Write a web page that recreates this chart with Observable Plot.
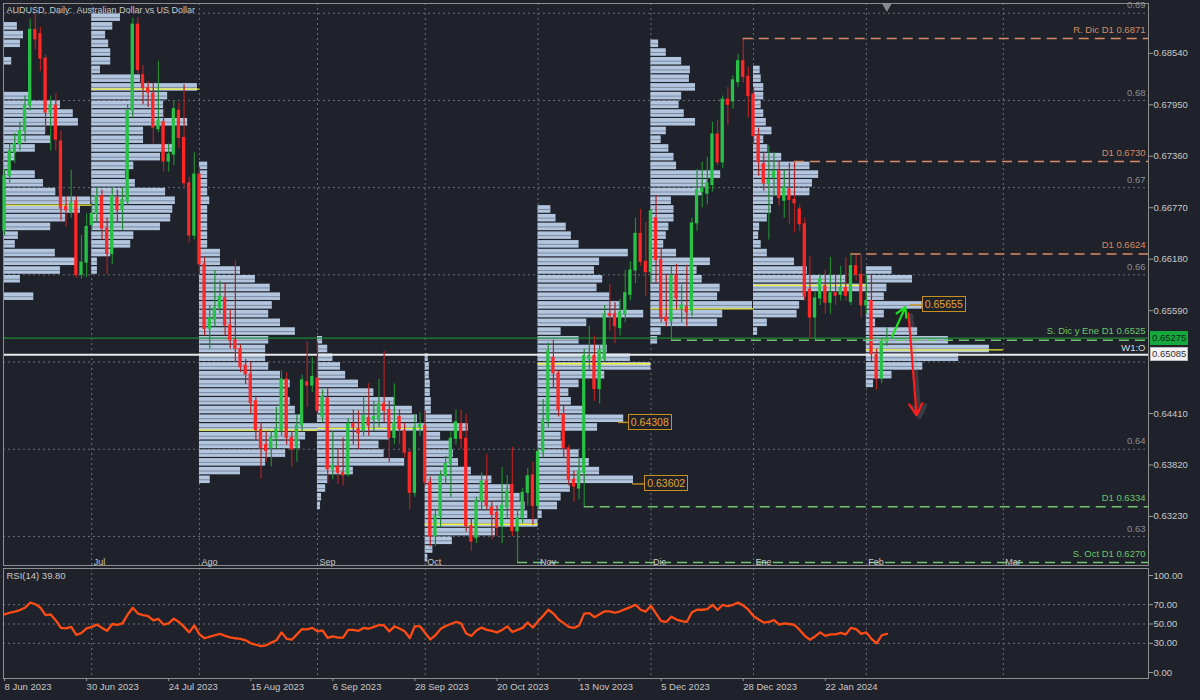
<!DOCTYPE html>
<html><head><meta charset="utf-8">
<script src="https://cdn.jsdelivr.net/npm/d3@7"></script>
<script src="https://cdn.jsdelivr.net/npm/@observablehq/plot@0.6"></script>
<style>
html,body{margin:0;padding:0;background:#1f222a;}
#wrap{position:relative;width:1200px;height:700px;overflow:hidden;background:#1f222a;font-family:"Liberation Sans Narrow","Arial Narrow","Liberation Sans",Arial,sans-serif;}
#main,#rsi{position:absolute;left:0;}
#main{top:0;} #rsi{top:568px;}
.box{position:absolute;font-size:9.5px;line-height:12px;height:12px;padding:0 2px;white-space:nowrap;}
</style></head><body><div id="wrap"><div id="main"></div><div id="rsi"></div></div>
<script>
// ---------- DATA ----------
const title = "AUDUSD, Daily:  Australian Dollar vs US Dollar";
const tickIdx = [0,16,32,48,64,80,96,112,128,144,160];
const tickLabels = ["8 Jun 2023","30 Jun 2023","24 Jul 2023","15 Aug 2023","6 Sep 2023","28 Sep 2023","20 Oct 2023","13 Nov 2023","5 Dec 2023","28 Dec 2023","22 Jan 2024"];
const monthIdx = [17,38,61,82,104,126,146,168,194.7];
const monthLabels = ["Jul","Ago","Sep","Oct","Nov","Dic","Ene","Feb","Mar"];

const opens = [0.6651,0.6713,0.6740,0.6750,0.6765,0.6794,0.6881,0.6876,0.6848,0.6786,0.6794,0.6753,0.6678,0.6672,0.6684,0.6600,0.6614,0.6657,0.6670,0.6690,0.6653,0.6624,0.6688,0.6674,0.6684,0.6788,0.6887,0.6829,0.6814,0.6808,0.6767,0.6775,0.6730,0.6738,0.6788,0.6757,0.6705,0.6645,0.6715,0.6612,0.6538,0.6548,0.6562,0.6573,0.6542,0.6525,0.6515,0.6496,0.6486,0.6455,0.6422,0.6405,0.6401,0.6413,0.6421,0.6480,0.6413,0.6402,0.6427,0.6477,0.6473,0.6481,0.6437,0.6458,0.6377,0.6380,0.6373,0.6371,0.6429,0.6423,0.6421,0.6436,0.6434,0.6434,0.6452,0.6445,0.6413,0.6437,0.6421,0.6396,0.6350,0.6425,0.6427,0.6362,0.6300,0.6323,0.6369,0.6383,0.6412,0.6429,0.6412,0.6312,0.6298,0.6340,0.6363,0.6333,0.6327,0.6312,0.6333,0.6359,0.6306,0.6321,0.6350,0.6370,0.6335,0.6397,0.6433,0.6505,0.6487,0.6440,0.6401,0.6365,0.6355,0.6373,0.6503,0.6507,0.6469,0.6503,0.6555,0.6555,0.6539,0.6555,0.6577,0.6605,0.6647,0.6615,0.6603,0.6665,0.6617,0.6551,0.6547,0.6599,0.6561,0.6563,0.6559,0.6659,0.6695,0.6693,0.6703,0.6761,0.6729,0.6801,0.6799,0.6821,0.6845,0.6827,0.6807,0.6759,0.6727,0.6704,0.6711,0.6719,0.6685,0.6698,0.6686,0.6675,0.6658,0.6583,0.6551,0.6573,0.6587,0.6568,0.6579,0.6577,0.6585,0.6569,0.6610,0.6600,0.6565,0.6570,0.6508,0.6481,0.6523];
const highs = [0.6721,0.6750,0.6762,0.6775,0.6805,0.6893,0.6899,0.6884,0.6852,0.6805,0.6808,0.6765,0.6690,0.6720,0.6690,0.6645,0.6670,0.6683,0.6700,0.6697,0.6665,0.6700,0.6697,0.6700,0.6795,0.6894,0.6895,0.6840,0.6822,0.6820,0.6845,0.6790,0.6750,0.6800,0.6797,0.6818,0.6712,0.6740,0.6723,0.6620,0.6565,0.6605,0.6593,0.6590,0.6560,0.6616,0.6520,0.6503,0.6500,0.6460,0.6430,0.6420,0.6420,0.6448,0.6490,0.6488,0.6420,0.6440,0.6485,0.6523,0.6505,0.6523,0.6468,0.6470,0.6420,0.6400,0.6413,0.6435,0.6445,0.6444,0.6460,0.6475,0.6455,0.6480,0.6512,0.6455,0.6475,0.6445,0.6430,0.6400,0.6440,0.6442,0.6444,0.6368,0.6330,0.6375,0.6392,0.6420,0.6445,0.6445,0.6440,0.6320,0.6345,0.6373,0.6394,0.6340,0.6335,0.6379,0.6370,0.6402,0.6330,0.6355,0.6378,0.6385,0.6402,0.6457,0.6522,0.6525,0.6490,0.6450,0.6405,0.6375,0.6390,0.6515,0.6541,0.6530,0.6520,0.6565,0.6589,0.6568,0.6572,0.6605,0.6615,0.6665,0.6675,0.6660,0.6675,0.6691,0.6630,0.6600,0.6610,0.6612,0.6588,0.6611,0.6665,0.6721,0.6729,0.6735,0.6775,0.6777,0.6805,0.6815,0.6828,0.6853,0.6871,0.6838,0.6815,0.6768,0.6740,0.6748,0.6740,0.6730,0.6720,0.6728,0.6730,0.6680,0.6665,0.6621,0.6580,0.6600,0.6605,0.6620,0.6600,0.6610,0.6620,0.6624,0.6624,0.6623,0.6600,0.6600,0.6515,0.6527,0.6539];
const lows = [0.6645,0.6705,0.6728,0.6742,0.6752,0.6788,0.6858,0.6833,0.6763,0.6742,0.6742,0.6662,0.6655,0.6665,0.6596,0.6595,0.6597,0.6650,0.6660,0.6640,0.6600,0.6612,0.6660,0.6651,0.6680,0.6780,0.6830,0.6795,0.6792,0.6750,0.6763,0.6718,0.6718,0.6725,0.6745,0.6700,0.6636,0.6640,0.6600,0.6530,0.6515,0.6540,0.6555,0.6530,0.6515,0.6500,0.6488,0.6474,0.6440,0.6410,0.6366,0.6385,0.6380,0.6400,0.6415,0.6405,0.6379,0.6385,0.6420,0.6448,0.6465,0.6440,0.6430,0.6360,0.6365,0.6360,0.6358,0.6368,0.6405,0.6400,0.6415,0.6415,0.6420,0.6425,0.6430,0.6385,0.6405,0.6405,0.6390,0.6331,0.6345,0.6415,0.6358,0.6288,0.6288,0.6310,0.6360,0.6345,0.6405,0.6400,0.6305,0.6283,0.6292,0.6330,0.6330,0.6296,0.6300,0.6292,0.6320,0.6300,0.6270,0.6315,0.6335,0.6313,0.6330,0.6390,0.6425,0.6470,0.6437,0.6390,0.6358,0.6339,0.6342,0.6334,0.6490,0.6455,0.6452,0.6500,0.6535,0.6521,0.6530,0.6545,0.6570,0.6590,0.6610,0.6575,0.6590,0.6590,0.6545,0.6540,0.6525,0.6560,0.6545,0.6540,0.6552,0.6650,0.6677,0.6680,0.6695,0.6725,0.6722,0.6772,0.6790,0.6815,0.6820,0.6780,0.6750,0.6713,0.6696,0.6640,0.6690,0.6679,0.6665,0.6658,0.6648,0.6650,0.6570,0.6526,0.6525,0.6565,0.6555,0.6555,0.6565,0.6570,0.6570,0.6565,0.6593,0.6551,0.6555,0.6500,0.6468,0.6475,0.6518];
const closes = [0.6713,0.6742,0.6750,0.6765,0.6794,0.6881,0.6870,0.6848,0.6786,0.6794,0.6755,0.6676,0.6674,0.6682,0.6600,0.6614,0.6655,0.6670,0.6690,0.6653,0.6624,0.6690,0.6674,0.6686,0.6788,0.6887,0.6835,0.6814,0.6809,0.6769,0.6777,0.6730,0.6738,0.6790,0.6757,0.6705,0.6645,0.6715,0.6612,0.6538,0.6550,0.6562,0.6575,0.6542,0.6525,0.6515,0.6494,0.6486,0.6453,0.6422,0.6401,0.6398,0.6413,0.6423,0.6480,0.6413,0.6400,0.6427,0.6479,0.6473,0.6483,0.6444,0.6460,0.6377,0.6381,0.6373,0.6370,0.6429,0.6425,0.6418,0.6438,0.6427,0.6437,0.6452,0.6444,0.6413,0.6430,0.6423,0.6396,0.6350,0.6425,0.6428,0.6362,0.6300,0.6323,0.6369,0.6383,0.6412,0.6431,0.6412,0.6312,0.6294,0.6340,0.6363,0.6335,0.6325,0.6310,0.6335,0.6352,0.6306,0.6321,0.6350,0.6369,0.6335,0.6397,0.6433,0.6513,0.6487,0.6445,0.6401,0.6365,0.6357,0.6375,0.6507,0.6507,0.6469,0.6513,0.6555,0.6553,0.6541,0.6557,0.6579,0.6605,0.6647,0.6615,0.6603,0.6673,0.6617,0.6551,0.6547,0.6599,0.6573,0.6565,0.6557,0.6659,0.6697,0.6699,0.6705,0.6761,0.6729,0.6801,0.6795,0.6823,0.6845,0.6827,0.6805,0.6759,0.6729,0.6705,0.6709,0.6719,0.6688,0.6700,0.6686,0.6682,0.6658,0.6575,0.6551,0.6573,0.6595,0.6568,0.6579,0.6576,0.6585,0.6576,0.6610,0.6600,0.6565,0.6570,0.6509,0.6481,0.6524,0.65275];

const rsiValues = [60,61.6,62.8,64.4,66.8,72,70.5,66.8,59.2,59.8,53.7,46,45.4,47,38.7,40.8,45.4,47,49.4,46,43,50,49,50.6,59.8,66.8,60.7,59.2,58.2,53.7,55.2,49.4,50.6,55.5,52.1,47,41.4,48.5,39.3,35.3,36.9,38.4,39.9,37.8,36.2,35.3,34.7,33.2,30.1,28.6,27.1,28,30.8,33.2,41.4,34.7,33.8,39.3,44.8,44.5,46,42.4,43.3,35.6,37.2,36,36,43.9,43.9,43,46,45.1,47,49,48.5,42.4,47.6,45.4,42.4,35.6,47.9,47.6,40.8,34.1,38.4,44.8,47.9,50,52.1,50.6,40.2,37.8,43.3,46.3,43.9,43,41.4,43.9,47.6,41.7,43.9,46,51.5,46.3,53,58.5,64.7,60.7,54.6,50.9,47,46,48.5,60.7,61.3,57,60,63.1,63.1,61.6,63.1,65.3,67.4,69.8,64.7,62.8,68.9,60.7,53,52.1,57.6,54.6,53,52.1,62.2,64.7,64.7,65.3,69.8,64.4,69.8,68.3,69.8,72,69.2,64.7,58.2,54.6,51.5,52.1,54,49.4,50.6,50,49,43.9,37.8,33.8,37.2,41.4,37.8,39.3,39.3,40.8,39.3,46,44.8,39.9,41.4,34.7,30.1,38.4,39.8];
const rsiTitle = "RSI(14) 39.80";
const rsiTicks = [100,70,50,30,0];
const rsiLevels = [70,50,30];

// monthly volume profiles: [bin low price, length in bars]
const profileBin = 0.001;
const profileStarts = [-5,17,38,61,82,104,126,146,168];
const profJun = [[0.688,7.5],[0.687,8.7],[0.686,8.1],[0.685,4.5],[0.684,6.4],[0.680,10],[0.679,15.9],[0.678,18.4],[0.677,19.4],[0.676,13],[0.675,14],[0.674,11],[0.673,7.1],[0.672,6.1],[0.671,11],[0.670,12.6],[0.669,15],[0.668,21.8],[0.667,19.8],[0.666,16.9],[0.665,14],[0.664,7.7],[0.663,7.1],[0.662,14.9],[0.661,19.2],[0.660,15.9],[0.659,8.1],[0.657,10.7]];
const profJul = [[0.689,5.6],[0.688,4.1],[0.687,2.7],[0.686,3.3],[0.685,3.7],[0.684,3.7],[0.683,1.7],[0.682,9.5],[0.681,20.6],[0.680,14.8],[0.679,14],[0.678,14],[0.677,18.7],[0.676,10.1],[0.675,10.1],[0.674,16.3],[0.673,13.4],[0.672,8.2],[0.671,6.6],[0.670,8.5],[0.669,14.4],[0.668,16.3],[0.667,15.8],[0.666,15.4],[0.665,13.4],[0.664,8.2],[0.663,7.6],[0.662,3.7],[0.661,1.1],[0.660,1.1]];
const profAgo = [[0.672,1.6],[0.671,1.6],[0.670,1.6],[0.669,1.6],[0.668,2.0],[0.667,1.6],[0.666,1.6],[0.665,1.6],[0.664,1.6],[0.663,1.6],[0.662,4.1],[0.661,4.1],[0.660,8],[0.659,10.9],[0.658,13.8],[0.657,15.8],[0.656,14.2],[0.655,13.5],[0.654,15.8],[0.653,18.7],[0.652,13.5],[0.651,12.9],[0.650,12.9],[0.649,13.5],[0.648,15.8],[0.647,17.7],[0.646,16.8],[0.645,17.7],[0.644,18.7],[0.643,19.7],[0.642,23],[0.641,20.7],[0.640,19.7],[0.639,16.8],[0.638,12.9],[0.637,8],[0.636,2.1]];
const profSep = [[0.652,1.0],[0.651,2.0],[0.650,3.0],[0.649,4.5],[0.648,5.5],[0.647,8],[0.646,11],[0.645,15],[0.644,18.5],[0.643,19.5],[0.642,21],[0.641,14],[0.640,12],[0.639,13],[0.638,17],[0.637,7],[0.636,2],[0.635,1.6],[0.634,0.8],[0.633,0.6]];
const profOct = [[0.650,0.6],[0.649,0.8],[0.648,0.8],[0.647,1.0],[0.646,1.0],[0.645,1.2],[0.644,1.2],[0.643,5.3],[0.642,8.4],[0.641,3.0],[0.640,5.3],[0.639,5.5],[0.638,6.5],[0.637,9],[0.636,13],[0.635,16.6],[0.634,18.5],[0.633,19.5],[0.632,20],[0.631,22],[0.630,13.7],[0.629,5.3],[0.628,1.5],[0.627,0.5]];
const profNov = [[0.667,2.5],[0.666,3.5],[0.665,5.5],[0.664,6.5],[0.663,8],[0.662,17.6],[0.661,12],[0.660,11],[0.659,12.6],[0.658,11.5],[0.657,14],[0.656,16],[0.655,20.6],[0.654,9.5],[0.653,4.5],[0.652,8],[0.651,13.5],[0.650,18],[0.649,22],[0.648,13],[0.647,8],[0.646,6],[0.645,6.5],[0.644,9],[0.643,16.7],[0.642,11.6],[0.641,4.5],[0.640,5],[0.639,8],[0.638,10],[0.637,12],[0.636,18.6],[0.635,6.3],[0.634,4.5],[0.633,3.8],[0.632,0.8]];
const profDic = [[0.686,1.5],[0.685,3],[0.684,6],[0.683,7.7],[0.682,7.5],[0.681,8.7],[0.680,6],[0.679,5.5],[0.678,6.5],[0.677,8.7],[0.676,3],[0.675,2],[0.674,3.5],[0.673,4.5],[0.672,5],[0.671,13.6],[0.670,11],[0.669,10],[0.668,4],[0.667,4.5],[0.666,4.5],[0.665,3.5],[0.664,3],[0.663,2.5],[0.662,5],[0.661,11.6],[0.660,9],[0.659,10],[0.658,13.5],[0.657,13],[0.656,19.8],[0.655,14],[0.654,13],[0.653,2],[0.652,1.3]];
const profEne = [[0.683,1.3],[0.682,1.5],[0.681,2],[0.680,2],[0.679,1.5],[0.678,2],[0.677,2.5],[0.676,3.6],[0.675,2],[0.674,2.8],[0.673,5.5],[0.672,11],[0.671,12.7],[0.670,11.5],[0.669,11],[0.668,3.9],[0.667,3.5],[0.666,2.7],[0.665,1.2],[0.664,1.0],[0.663,1.5],[0.662,2.7],[0.661,8],[0.660,10.5],[0.659,18],[0.658,22],[0.657,10],[0.656,9],[0.655,8.5],[0.654,2.7],[0.653,0.8]];
const profFeb = [[0.660,5],[0.659,9],[0.658,4],[0.657,3.5],[0.656,10.9],[0.655,3.5],[0.654,1.8],[0.653,10],[0.652,16],[0.651,24],[0.650,18],[0.649,11],[0.648,5],[0.647,1.4]];

const pocPrices = [0.6680,0.6813,0.6422,0.6424,0.6314,0.6498,0.6561,0.6588,0.6514];
const pocEnds = [17,38,61,82,104,126,146,168,194.7];

const gridPrices = [0.63,0.64,0.65,0.66,0.67,0.68,0.69];
const gridLabelPrices = [0.63,0.64,0.66,0.67,0.68,0.69];
const axisTicks = [0.6854,0.6795,0.6736,0.6677,0.6618,0.6559,0.6441,0.6382,0.6323];

const levelLabels = ["R. Dic D1 0.6871","D1 0.6730","D1 0.6624","S. Dic y Ene D1 0.6525","D1 0.6334","S. Oct D1 0.6270"];
const levelPrices = [0.6871,0.6730,0.6624,0.6525,0.6334,0.6270];
const levelStarts = [144,154,165,130,113,100];
const levelKinds = ["res","res","res","sup","sup","sup"];

const tagPrices = [0.64308,0.63602,0.65655];
const tagFrom = [119.7,122.4,176.6];
const tagTo = [121.6,124.8,178.9];

const bidPrice = 0.65275;
const weekOpen = 0.65085;

const arrowUp = {x1:173.0,y1:0.6529,x2:175.6,y2:0.6563};
const arrowDown = {x1:176.2,y1:0.6556,x2:177.8,y2:0.6439};

// ---------- STYLE ----------
const FONT = '"Liberation Sans Narrow","Arial Narrow","Liberation Sans",Arial,sans-serif';
const BG = "#1f222a";
const GRID = "#6a6e77";
const TXT = "#c8c8c8";
const RES = "#d98a62", SUP = "#6cc46c";
const xDomain = [-0.2, 223.0];
const yDomain = [0.62667, 0.69112];
const FS = 9.5;

// ---------- BUILD ----------
const candles = opens.map((o,i)=>({i,o,h:highs[i],l:lows[i],c:closes[i],up:closes[i]>=o}));
const profiles = [profJun,profJul,profAgo,profSep,profOct,profNov,profDic,profEne,profFeb];
const profRows = profiles.flatMap((prof,k)=>prof.map(([p,len])=>({s:profileStarts[k],p,len})));
const pocRows = pocPrices.map((p,k)=>({p,s:profileStarts[k],e:pocEnds[k]}));
const levels = levelLabels.map((label,k)=>({label,p:levelPrices[k],s:levelStarts[k],col:levelKinds[k]==="res"?RES:SUP}));
const tags = tagPrices.map((p,k)=>({p,a:tagFrom[k],b:tagTo[k]}));
const months = monthLabels.map((m,k)=>({m,x:monthIdx[k]}));
const rsiRows = rsiValues.map((v,i)=>({i,v}));

const dotted = {stroke:GRID, strokeDasharray:"2,3", strokeWidth:1};

const main = Plot.plot({
  width:1200, height:568,
  marginLeft:3, marginRight:52, marginTop:3, marginBottom:3,
  style:{background:"transparent", color:TXT, fontFamily:FONT, fontSize:FS+"px"},
  x:{domain:xDomain, axis:null},
  y:{domain:yDomain, axis:null},
  color:{type:"identity"},
  marks:[
    Plot.ruleY(gridPrices, dotted),
    Plot.ruleX(monthIdx, dotted),
    Plot.text(gridLabelPrices, {y:d=>d, text:d=>String(d), frameAnchor:"right", textAnchor:"end", dx:-3, dy:-8, fill:"#8a8d94", fontSize:FS}),
    Plot.rect(profRows, {x1:"s", x2:d=>d.s+d.len, y1:"p", y2:d=>d.p+profileBin, fill:"#b3c6e0", insetTop:0.6, insetBottom:0.6, clip:true}),
    Plot.ruleY(profRows, {y:d=>d.p+profileBin/2, x1:"s", x2:d=>d.s+d.len, stroke:"#6f7a8c", strokeWidth:0.8, clip:true}),
    Plot.ruleY(pocRows, {y:"p", x1:"s", x2:"e", stroke:"#f2f23c", strokeWidth:1.4, clip:true}),
    Plot.ruleY([bidPrice], {stroke:"#1c8a33", strokeWidth:1.2}),
    Plot.ruleY([weekOpen], {stroke:"#e9e9e9", strokeWidth:2}),
    Plot.ruleX(candles, {x:"i", y1:"l", y2:"h", stroke:d=>d.up?"#1f8a32":"#b02222", strokeWidth:1.2}),
    Plot.rect(candles, {x1:d=>d.i-0.32, x2:d=>d.i+0.32, y1:d=>Math.min(d.o,d.c), y2:d=>Math.max(d.o,d.c), fill:d=>d.up?"#27c146":"#ff2626", insetTop:-0.5, insetBottom:-0.5}),
    Plot.ruleY(levels, {y:"p", x1:"s", x2:()=>xDomain[1], stroke:"col", strokeDasharray:"10,6", strokeWidth:1.5}),
    Plot.text(levels, {y:"p", text:"label", frameAnchor:"right", textAnchor:"end", dx:-3, dy:-9, fill:"col", fontSize:FS}),
    Plot.text([weekOpen], {y:d=>d, text:()=>"W1:O", frameAnchor:"right", textAnchor:"end", dx:-3, dy:-7, fill:"#dcdcdc", fontSize:FS}),
    Plot.ruleY(tags, {y:"p", x1:"a", x2:"b", stroke:"#c8901c", strokeWidth:1.4}),
    Plot.arrow([arrowDown], {x1:"x1", y1:"y1", x2:"x2", y2:"y2", stroke:"#9a9a9a", strokeOpacity:0.22, strokeWidth:4, dx:3, dy:2, headLength:5}),
    Plot.arrow([arrowUp], {x1:"x1", y1:"y1", x2:"x2", y2:"y2", stroke:"#1ee01e", strokeWidth:2.2, headLength:9}),
    Plot.arrow([arrowDown], {x1:"x1", y1:"y1", x2:"x2", y2:"y2", stroke:"#ff1c1c", strokeWidth:2.2, headLength:9}),
    Plot.text(months, {x:"x", text:"m", frameAnchor:"bottom", textAnchor:"start", lineAnchor:"bottom", dx:2, dy:-1, fill:TXT, fontSize:9}),
    Plot.text([title], {frameAnchor:"top-left", textAnchor:"start", lineAnchor:"top", dx:3, dy:3, fill:TXT, fontSize:9}),
    Plot.dot([candles.length-1], {x:d=>d, frameAnchor:"top", symbol:"triangle", r:3.5, fill:"#8a8a8a", rotate:180, dy:3}),
    Plot.frame({stroke:"#8e8e8e"}),
    Plot.axisY(axisTicks, {anchor:"right", label:null, tickFormat:d=>d.toFixed(5), tickSize:4, tickPadding:1, stroke:"#9a9a9a", fill:TXT, fontSize:FS})
  ]
});
document.getElementById("main").append(main);

const sx = main.scale("x"), sy = main.scale("y");
const wrap = document.getElementById("wrap");
function addBox(text, left, top, css){
  const d = document.createElement("div");
  d.className = "box"; d.textContent = text;
  d.style.left = left+"px"; d.style.top = top+"px";
  Object.assign(d.style, css);
  wrap.append(d);
}
const axisLeft = sx.apply(xDomain[1]) + 2;
tags.forEach(t=>addBox(t.p.toFixed(5), sx.apply(t.b), sy.apply(t.p)-8, {border:"1px solid #c8901c", color:"#e5a235", background:BG, height:"14px", lineHeight:"14px", fontSize:"10.5px"}));
addBox(weekOpen.toFixed(5), axisLeft, sy.apply(weekOpen)-7, {background:"#f2f2f2", color:"#333", border:"1px solid #bbb", padding:"0 1px"});
addBox(bidPrice.toFixed(5), axisLeft, sy.apply(bidPrice)-7, {background:"#16a83c", color:"#0c2a14", border:"1px solid #16a83c", padding:"0 1px"});

const rsiPlot = Plot.plot({
  width:1200, height:132,
  marginLeft:3, marginRight:52, marginTop:0, marginBottom:22,
  style:{background:"transparent", color:TXT, fontFamily:FONT, fontSize:FS+"px"},
  x:{domain:xDomain, axis:null},
  y:{domain:[0,100], range:[104,7], axis:null},
  marks:[
    Plot.ruleY(rsiLevels, dotted),
    Plot.ruleX(monthIdx, dotted),
    Plot.line(rsiRows, {x:"i", y:"v", stroke:"#ff4b14", strokeWidth:2.3}),
    Plot.frame({stroke:"#8e8e8e"}),
    Plot.text([rsiTitle], {frameAnchor:"top-left", textAnchor:"start", lineAnchor:"top", dx:3, dy:4, fill:TXT, fontSize:FS}),
    Plot.axisY(rsiTicks, {anchor:"right", label:null, tickFormat:d=>d.toFixed(2), tickSize:4, tickPadding:1, stroke:"#9a9a9a", fill:TXT, fontSize:FS}),
    Plot.axisX(tickIdx, {anchor:"bottom", label:null, tickFormat:d=>tickLabels[tickIdx.indexOf(d)], textAnchor:"start", tickSize:3, tickPadding:2, stroke:"#9a9a9a", fill:TXT, fontSize:FS})
  ]
});
document.getElementById("rsi").append(rsiPlot);
</script></body></html>
